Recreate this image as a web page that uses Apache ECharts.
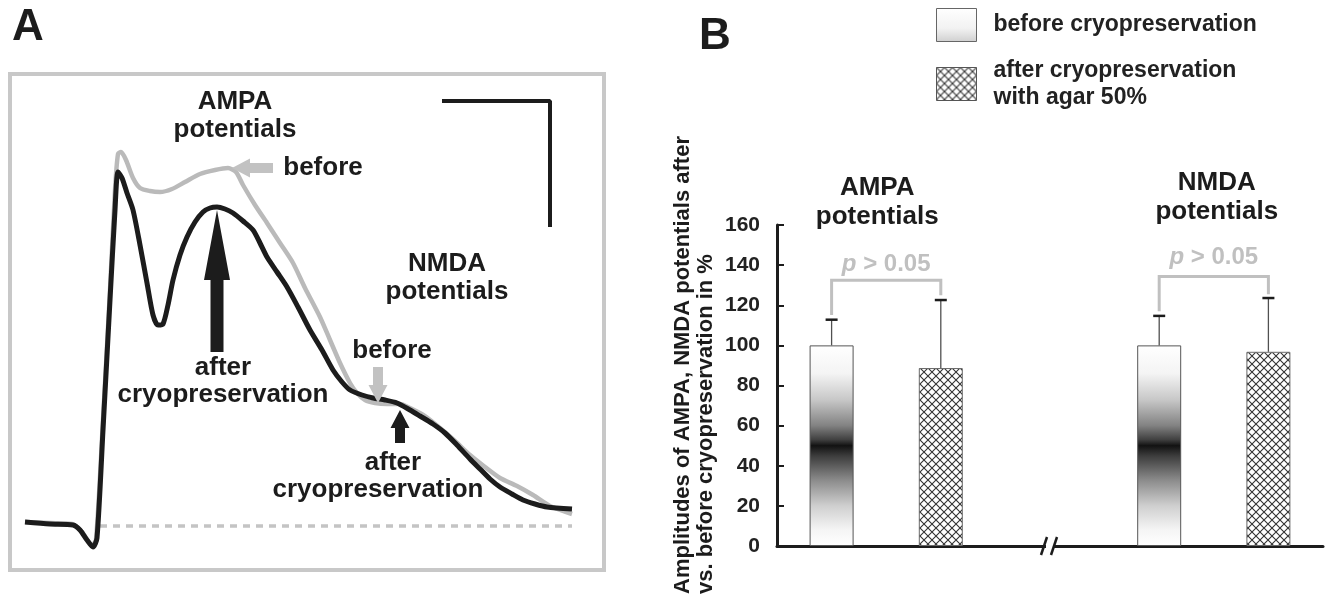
<!DOCTYPE html>
<html>
<head>
<meta charset="utf-8">
<title>AMPA / NMDA potentials before and after cryopreservation</title>
<script src="https://cdn.jsdelivr.net/npm/echarts@6/dist/echarts.min.js"></script>
<style>
  html, body { margin: 0; padding: 0; background: #fff; }
  #chart { width: 1327px; height: 596px; }
</style>
</head>
<body>
<div id="chart"></div>
<script>
// ---- panel A: recorded traces (time in ms-like units, voltage above baseline)
var beforeTime = [5, 30, 52, 62, 72, 76, 83, 90, 95, 98, 101, 106, 113, 120, 130, 140, 152, 165, 180, 195, 208, 216, 223, 235, 247, 260, 273, 285, 300, 310, 320, 330, 337, 345, 355, 367, 380, 390, 405, 420, 435, 450, 465, 480, 497, 513, 530, 552];
var beforeVolt = [4, 3, 2, -6, -19, -14, 106, 236, 336, 372, 374, 366, 348, 338, 335, 334, 337, 344, 352, 356, 358, 354, 341, 321, 303, 283, 263, 238, 209, 186, 163, 143, 133, 126, 123, 122, 122, 118, 110, 98, 85, 71, 59, 48, 40, 31, 20, 12];

var afterTime = [5, 30, 53, 60, 67, 73, 77, 83, 90, 95, 98, 102, 107, 113, 120, 127, 133, 138, 143, 148, 153, 160, 167, 175, 183, 190, 197, 205, 213, 223, 233, 240, 247, 257, 267, 278, 290, 302, 313, 322, 330, 342, 353, 365, 377, 390, 400, 413, 425, 437, 450, 460, 470, 480, 492, 503, 515, 527, 552];
var afterVolt = [4, 2, 1, -4, -14, -21, -12, 96, 226, 316, 354, 348, 333, 316, 281, 243, 211, 201, 202, 221, 246, 271, 289, 304, 314, 318, 319, 317, 313, 305, 296, 283, 269, 254, 239, 219, 196, 176, 156, 144, 136, 131, 128, 126, 123, 116, 110, 102, 93, 81, 67, 57, 47, 39, 32, 26, 22, 19, 17];

var baselineTime = [80, 552];
var baselineVolt = [0, 0];

var scaleBarTime = [422, 530, 530];
var scaleBarVolt = [425, 425, 299];

// arrows: tail -> tip
var arrowTail = [[253, 358], [197, 174], [358, 159], [380, 83]];
var arrowTip = [[212, 358], [197, 316], [358, 123], [380, 116]];

// ---- panel B: amplitudes in %
var categories = ['AMPA before', 'AMPA after', '', 'NMDA before', 'NMDA after'];
var beforeAmp = [100, '-', '-', 100, '-'];
var afterAmp = ['-', 88.7, '-', '-', 96.8];
var errorTop = [112.8, 122.6, '-', 114.7, 123.6];
var yTicks = [0, 160, 20];

var bracketFrom = [0, 3];
var bracketTo = [1, 4];
var bracketTop = [132.4, 134.3];
var bracketLeftFoot = [115.2, 117];
var bracketRightFoot = [125, 125.5];
var pLevel = [140.6, 144];
var pLabel = ['p > 0.05', 'p > 0.05'];

var groupTitle = ['AMPA\npotentials', 'NMDA\npotentials'];
var groupTitleLevel = [171.5, 174];

var FONT = "'Liberation Sans', Arial, Helvetica, sans-serif";
var INK = '#1c1c1c';

var arrowLook = [
  { color: '#c2c2c2', shaft: 10, width: 19, head: 18 },
  { color: INK, shaft: 13, width: 26, head: 70 },
  { color: '#c2c2c2', shaft: 10, width: 19, head: 18 },
  { color: INK, shaft: 10, width: 19, head: 18 }
];

function zip(a, b) {
  return a.map(function (v, i) { return [v, b[i]]; });
}

// cross-hatch fill for the "after" bars
var hatch = document.createElement('canvas');
hatch.width = 8; hatch.height = 8;
var hc = hatch.getContext('2d');
hc.fillStyle = '#fff';
hc.fillRect(0, 0, 8, 8);
hc.strokeStyle = '#333';
hc.lineWidth = 1.1;
hc.beginPath();
hc.moveTo(0, 0); hc.lineTo(8, 8);
hc.moveTo(0, 8); hc.lineTo(8, 0);
hc.stroke();

var barShade = {
  type: 'linear', x: 0, y: 0, x2: 0, y2: 1,
  colorStops: [
    { offset: 0, color: '#ffffff' },
    { offset: 0.14, color: '#f4f4f4' },
    { offset: 0.27, color: '#c8c8c8' },
    { offset: 0.4, color: '#828282' },
    { offset: 0.47, color: '#404040' },
    { offset: 0.5, color: '#121212' },
    { offset: 0.55, color: '#3c3c3c' },
    { offset: 0.67, color: '#8a8a8a' },
    { offset: 0.8, color: '#cfcfcf' },
    { offset: 0.92, color: '#f5f5f5' },
    { offset: 1, color: '#ffffff' }
  ]
};
var legendShade = {
  type: 'linear', x: 0, y: 0, x2: 0, y2: 1,
  colorStops: [
    { offset: 0, color: '#ffffff' },
    { offset: 0.6, color: '#f2f2f2' },
    { offset: 1, color: '#cfcfcf' }
  ]
};

var errorRows = [];
categories.forEach(function (c, i) {
  if (errorTop[i] === '-') return;
  var v = beforeAmp[i] !== '-' ? beforeAmp[i] : afterAmp[i];
  errorRows.push([i, v, errorTop[i]]);
});
var bracketRows = bracketFrom.map(function (f, i) {
  return [f, bracketTo[i], bracketTop[i], bracketLeftFoot[i], bracketRightFoot[i], pLevel[i]];
});
var titleRows = bracketFrom.map(function (f, i) {
  return [f, bracketTo[i], groupTitleLevel[i]];
});
var breakRows = [[2, 0]];

function renderArrow(params, api) {
  var st = arrowLook[params.dataIndex];
  var p0 = api.coord([api.value(0), api.value(1)]);
  var p1 = api.coord([api.value(2), api.value(3)]);
  var dx = p1[0] - p0[0], dy = p1[1] - p0[1];
  var len = Math.sqrt(dx * dx + dy * dy);
  var ux = dx / len, uy = dy / len, nx = -uy, ny = ux;
  var bx = p1[0] - ux * st.head, by = p1[1] - uy * st.head;
  var s = st.shaft / 2, h = st.width / 2;
  return {
    type: 'polygon',
    shape: { points: [
      [p0[0] + nx * s, p0[1] + ny * s],
      [bx + nx * s, by + ny * s],
      [bx + nx * h, by + ny * h],
      [p1[0], p1[1]],
      [bx - nx * h, by - ny * h],
      [bx - nx * s, by - ny * s],
      [p0[0] - nx * s, p0[1] - ny * s]
    ] },
    style: { fill: st.color }
  };
}

function renderError(params, api) {
  var x = api.value(0);
  var a = api.coord([x, api.value(1)]);
  var b = api.coord([x, api.value(2)]);
  return {
    type: 'group',
    children: [
      { type: 'line', shape: { x1: a[0], y1: a[1], x2: b[0], y2: b[1] }, style: { stroke: '#505050', lineWidth: 1.3 } },
      { type: 'line', shape: { x1: b[0] - 6, y1: b[1], x2: b[0] + 6, y2: b[1] }, style: { stroke: INK, lineWidth: 2.5 } }
    ]
  };
}

function renderBracket(params, api) {
  var l = api.value(0), r = api.value(1);
  var a = api.coord([l, api.value(3)]);
  var b = api.coord([l, api.value(2)]);
  var c = api.coord([r, api.value(2)]);
  var d = api.coord([r, api.value(4)]);
  var t = api.coord([l, api.value(5)]);
  var label = pLabel[params.dataIndex];
  var rest = label.slice(1);
  return {
    type: 'group',
    children: [
      { type: 'polyline', shape: { points: [a, b, c, d] }, style: { stroke: '#c0c0c0', lineWidth: 3, fill: null } },
      {
        type: 'text', x: (b[0] + c[0]) / 2, y: t[1],
        style: {
          text: '{i|p}{n|' + rest + '}',
          align: 'center', verticalAlign: 'middle',
          rich: {
            i: { fontStyle: 'italic', fontWeight: 'bold', fontSize: 24, fontFamily: FONT, fill: '#c0c0c0' },
            n: { fontWeight: 'bold', fontSize: 24, fontFamily: FONT, fill: '#c0c0c0' }
          }
        }
      }
    ]
  };
}

function renderTitle(params, api) {
  var a = api.coord([api.value(0), api.value(2)]);
  var b = api.coord([api.value(1), api.value(2)]);
  var shift = params.dataIndex === 0 ? -9 : 3;
  return {
    type: 'text', x: (a[0] + b[0]) / 2 + shift, y: a[1],
    style: {
      text: groupTitle[params.dataIndex],
      align: 'center', verticalAlign: 'middle',
      font: 'bold 26px ' + FONT, lineHeight: 29, fill: INK
    }
  };
}

function renderBreak(params, api) {
  var p = api.coord([api.value(0), api.value(1)]);
  return {
    type: 'group',
    children: [
      { type: 'rect', shape: { x: p[0] - 4, y: p[1] - 3, width: 7, height: 6 }, style: { fill: '#fff' } },
      { type: 'line', shape: { x1: p[0] - 9, y1: p[1] + 9, x2: p[0] - 3, y2: p[1] - 9 }, style: { stroke: INK, lineWidth: 2.5 } },
      { type: 'line', shape: { x1: p[0] + 1, y1: p[1] + 9, x2: p[0] + 7, y2: p[1] - 9 }, style: { stroke: INK, lineWidth: 2.5 } }
    ]
  };
}

var chart = echarts.init(document.getElementById('chart'));

var option = {
  animation: false,
  backgroundColor: '#fff',
  textStyle: { fontFamily: FONT },
  grid: [
    { left: 20, top: 100, width: 560, height: 450 },
    { left: 777, top: 225, width: 546, height: 321 }
  ],
  xAxis: [
    { gridIndex: 0, type: 'value', min: 0, max: 560, show: false },
    {
      gridIndex: 1, type: 'category', data: categories,
      axisLine: { lineStyle: { color: INK, width: 3 } },
      axisTick: { inside: true, length: 8, lineStyle: { color: INK, width: 2 } },
      axisLabel: { show: false },
      splitLine: { show: false }
    }
  ],
  yAxis: [
    { gridIndex: 0, type: 'value', min: -24, max: 426, show: false },
    {
      gridIndex: 1, type: 'value', min: yTicks[0], max: yTicks[1], interval: yTicks[2],
      axisLine: { show: true, lineStyle: { color: INK, width: 3 } },
      axisTick: { show: true, inside: true, length: 7, lineStyle: { color: INK, width: 2 } },
      axisLabel: { fontSize: 21, fontWeight: 'bold', color: '#222', margin: 17, fontFamily: FONT },
      splitLine: { show: false }
    }
  ],
  legend: {
    orient: 'vertical',
    left: 936, top: 8,
    padding: 0,
    itemWidth: 40, itemHeight: 33, itemGap: 15,
    icon: 'rect',
    selectedMode: false,
    formatter: function (name) { return name.replace(' with ', '\nwith '); },
    textStyle: { fontSize: 23, fontWeight: 'bold', color: '#222', fontFamily: FONT, lineHeight: 27, padding: [0, 0, 0, 12] },
    data: [
      { name: 'before cryopreservation', itemStyle: { color: legendShade, borderColor: '#666', borderWidth: 1 } },
      { name: 'after cryopreservation with agar 50%', itemStyle: { borderColor: '#555', borderWidth: 1 } }
    ]
  },
  graphic: [
    { type: 'rect', shape: { x: 10, y: 74, width: 594, height: 496 }, style: { fill: null, stroke: '#c8c8c8', lineWidth: 4 }, z: 0 },
    { type: 'text', x: 28, y: 28, style: { text: 'A', font: 'bold 44px ' + FONT, fill: INK, align: 'center', verticalAlign: 'middle' } },
    { type: 'text', x: 715, y: 37, style: { text: 'B', font: 'bold 44px ' + FONT, fill: INK, align: 'center', verticalAlign: 'middle' } },
    { type: 'text', x: 235, y: 116, style: { text: 'AMPA\npotentials', font: 'bold 26px ' + FONT, lineHeight: 28, fill: INK, align: 'center', verticalAlign: 'middle' } },
    { type: 'text', x: 323, y: 168, style: { text: 'before', font: 'bold 26px ' + FONT, fill: INK, align: 'center', verticalAlign: 'middle' } },
    { type: 'text', x: 447, y: 278, style: { text: 'NMDA\npotentials', font: 'bold 26px ' + FONT, lineHeight: 28, fill: INK, align: 'center', verticalAlign: 'middle' } },
    { type: 'text', x: 392, y: 351, style: { text: 'before', font: 'bold 26px ' + FONT, fill: INK, align: 'center', verticalAlign: 'middle' } },
    { type: 'text', x: 223, y: 381, style: { text: 'after\ncryopreservation', font: 'bold 26px ' + FONT, lineHeight: 27, fill: INK, align: 'center', verticalAlign: 'middle' } },
    { type: 'text', x: 393, y: 463, style: { text: 'after', font: 'bold 26px ' + FONT, fill: INK, align: 'center', verticalAlign: 'middle' } },
    { type: 'text', x: 378, y: 490, style: { text: 'cryopreservation', font: 'bold 26px ' + FONT, fill: INK, align: 'center', verticalAlign: 'middle' } },
    {
      type: 'text', x: 694, y: 594, rotation: Math.PI / 2,
      style: {
        text: 'Amplitudes of AMPA, NMDA potentials after\nvs. before cryopreservation in %',
        font: 'bold 22px ' + FONT, lineHeight: 23, fill: INK, align: 'left', verticalAlign: 'middle'
      }
    }
  ],
  series: [
    {
      name: 'baseline', type: 'line', xAxisIndex: 0, yAxisIndex: 0,
      data: zip(baselineTime, baselineVolt), showSymbol: false, silent: true, z: 2,
      lineStyle: { color: '#c4c4c4', width: 3.5, type: [7, 6] }
    },
    {
      name: 'before trace', type: 'line', xAxisIndex: 0, yAxisIndex: 0,
      data: zip(beforeTime, beforeVolt), showSymbol: false, smooth: 0.25, z: 3,
      lineStyle: { color: '#bababa', width: 4.5, join: 'round' }
    },
    {
      name: 'after trace', type: 'line', xAxisIndex: 0, yAxisIndex: 0,
      data: zip(afterTime, afterVolt), showSymbol: false, smooth: 0.25, z: 4,
      lineStyle: { color: INK, width: 5, join: 'round' }
    },
    {
      name: 'scale bar', type: 'line', xAxisIndex: 0, yAxisIndex: 0,
      data: zip(scaleBarTime, scaleBarVolt), showSymbol: false, z: 4,
      lineStyle: { color: INK, width: 4 }
    },
    {
      name: 'arrows', type: 'custom', xAxisIndex: 0, yAxisIndex: 0, z: 5,
      data: arrowTail.map(function (t, i) { return [t[0], t[1], arrowTip[i][0], arrowTip[i][1]]; }),
      renderItem: renderArrow
    },
    {
      name: 'before cryopreservation', type: 'bar', xAxisIndex: 1, yAxisIndex: 1,
      data: beforeAmp, barWidth: 44, barGap: '-100%',
      itemStyle: { color: barShade, borderColor: '#555', borderWidth: 1 }
    },
    {
      name: 'after cryopreservation with agar 50%', type: 'bar', xAxisIndex: 1, yAxisIndex: 1,
      data: afterAmp, barWidth: 44, barGap: '-100%',
      itemStyle: { color: { image: hatch, repeat: 'repeat' }, borderColor: '#6a6a6a', borderWidth: 1 }
    },
    {
      name: 'error', type: 'custom', xAxisIndex: 1, yAxisIndex: 1, z: 6,
      data: errorRows, renderItem: renderError
    },
    {
      name: 'significance', type: 'custom', xAxisIndex: 1, yAxisIndex: 1, z: 6,
      data: bracketRows, renderItem: renderBracket
    },
    {
      name: 'group titles', type: 'custom', xAxisIndex: 1, yAxisIndex: 1, z: 6,
      data: titleRows, renderItem: renderTitle
    },
    {
      name: 'axis break', type: 'custom', xAxisIndex: 1, yAxisIndex: 1, z: 10,
      data: breakRows, renderItem: renderBreak
    }
  ]
};

chart.setOption(option);
window.addEventListener('resize', function () { chart.resize(); });
</script>
</body>
</html>
